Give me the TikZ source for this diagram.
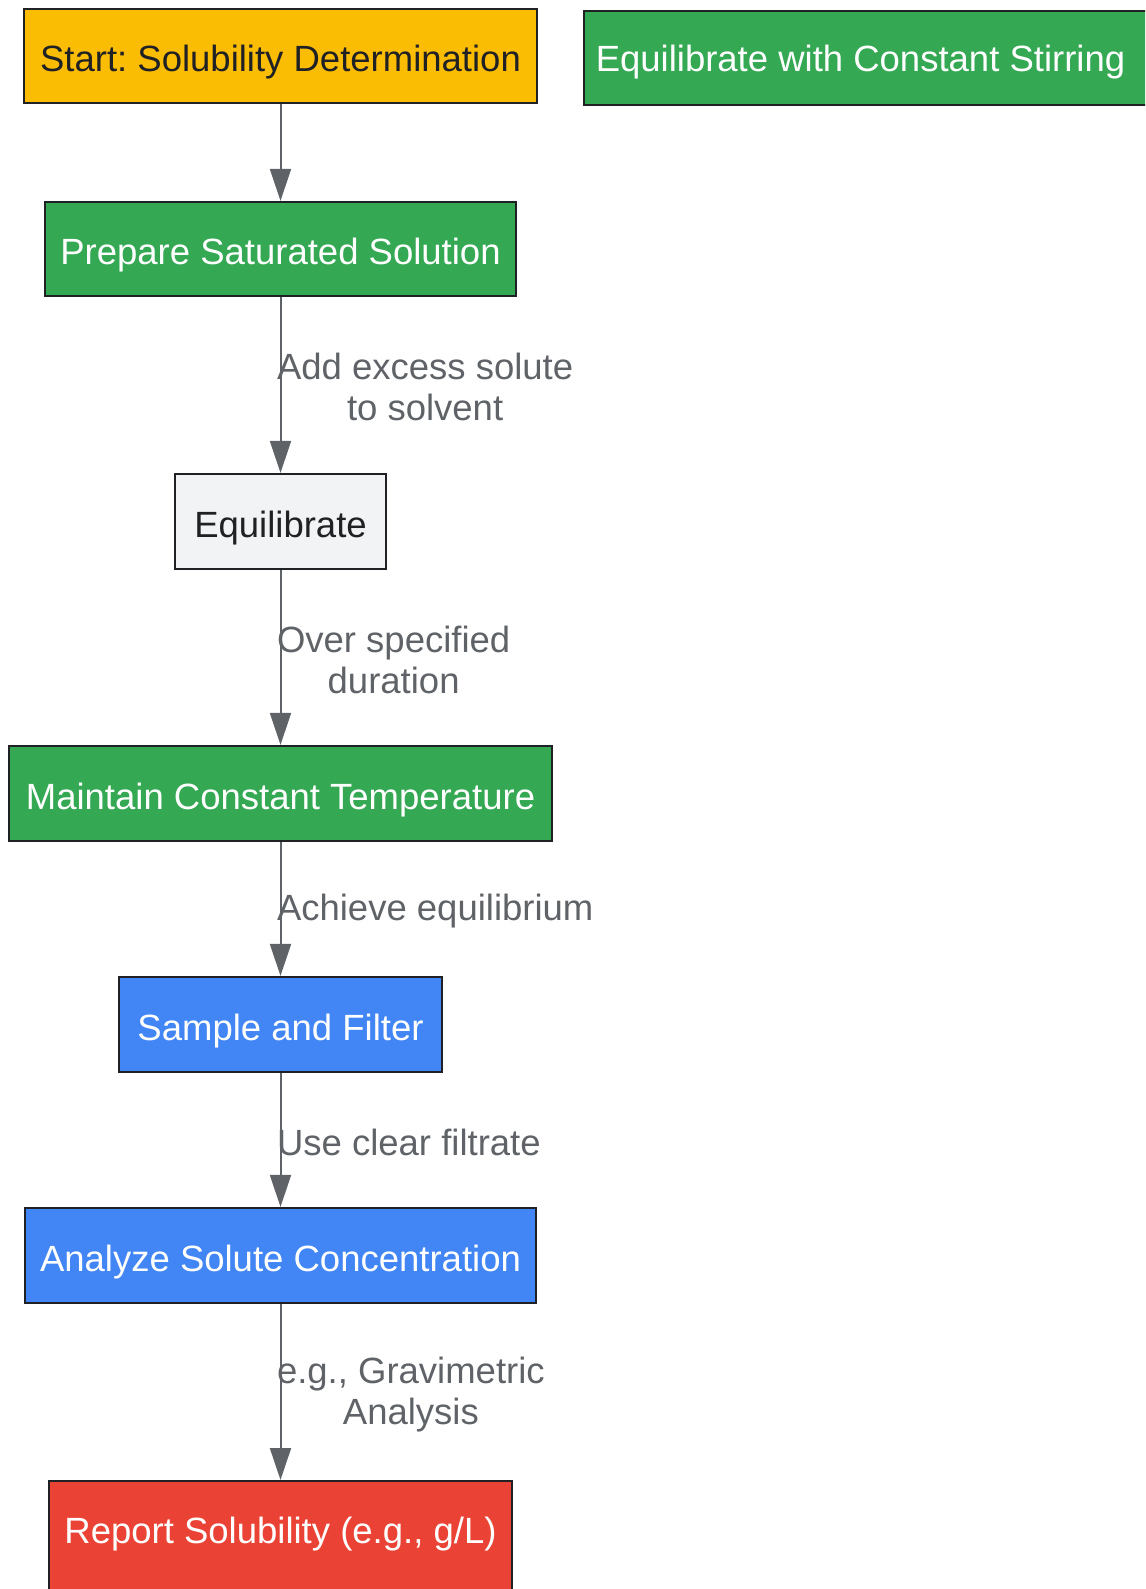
\documentclass[tikz,border=0pt]{standalone}
\usepackage{fontspec}
\setmainfont{Liberation Sans}
\frenchspacing
\usetikzlibrary{arrows.meta}
\definecolor{cyel}{HTML}{FBBC04}
\definecolor{cgrn}{HTML}{34A853}
\definecolor{cblu}{HTML}{4285F4}
\definecolor{cred}{HTML}{EA4335}
\definecolor{cgry}{HTML}{F1F3F4}
\definecolor{cbrd}{HTML}{202124}
\definecolor{cedge}{HTML}{5F6368}
\tikzset{
  box/.style={draw=cbrd, line width=2.2pt, rectangle, minimum height=94pt, inner sep=0pt,
    font=\fontsize{36.5}{41}\selectfont, text height=36pt, text depth=5pt},
  boxw/.style={box, text=white},
  boxd/.style={box, text=cbrd},
  plain/.style={inner sep=0pt, font=\fontsize{36.5}{41}\selectfont, text height=36pt, text depth=5pt},
  arr/.style={draw=cedge, line width=2pt, -{Triangle[length=32pt,width=21pt]}},
  lbl/.style={text=cedge, inner sep=0pt, anchor=west, align=center, xshift=-4.5pt, yshift=-2pt,
    font=\fontsize{36.5}{41}\selectfont}
}
\begin{document}
\begin{tikzpicture}[x=1pt,y=-1pt]
\begin{scope}
\clip (0,0) rectangle (1145,1589);
\node[boxd, fill=cyel, minimum width=513pt] (start) at (280.5,56) {Start: Solubility Determination};
\node[box, fill=cgrn, minimum width=580pt, anchor=north west] (stir) at (583,10) {};
\node[plain, text=white] (stirtext) at (860.5,56) {Equilibrate with Constant Stirring};
\node[boxw, fill=cgrn, minimum width=471pt] (prep) at (280.5,249) {Prepare Saturated Solution};
\node[boxd, fill=cgry, minimum width=211pt, minimum height=95pt] (equil) at (280.5,521.5) {Equilibrate};
\node[boxw, fill=cgrn, minimum width=543pt, minimum height=95pt] (maint) at (280.5,793.5) {Maintain Constant Temperature};
\node[boxw, fill=cblu, minimum width=323pt, minimum height=95pt] (sample) at (280.5,1024.5) {Sample and Filter};
\node[boxw, fill=cblu, minimum width=511pt, minimum height=95pt] (analyze) at (280.5,1255.5) {Analyze Solute Concentration};
\node[box, fill=cred, minimum width=463pt, minimum height=140pt, anchor=north] (report) at (280.5,1480) {};
\node[plain, text=white] (reporttext) at (280.5,1527.5) {Report Solubility (e.g., g/L)};
\end{scope}
\draw[arr] (start) -- (prep);
\draw[arr] (prep) -- node[lbl] {Add excess solute\\to solvent} (equil);
\draw[arr] (equil) -- node[lbl] {Over specified\\duration} (maint);
\draw[arr] (maint) -- node[lbl] {Achieve equilibrium} (sample);
\draw[arr] (sample) -- node[lbl] {Use clear filtrate} (analyze);
\draw[arr] (analyze) -- node[lbl] {e.g., Gravimetric\\Analysis} (report);
\pgfresetboundingbox
\useasboundingbox (0,0) rectangle (1145,1589);
\end{tikzpicture}
\end{document}
